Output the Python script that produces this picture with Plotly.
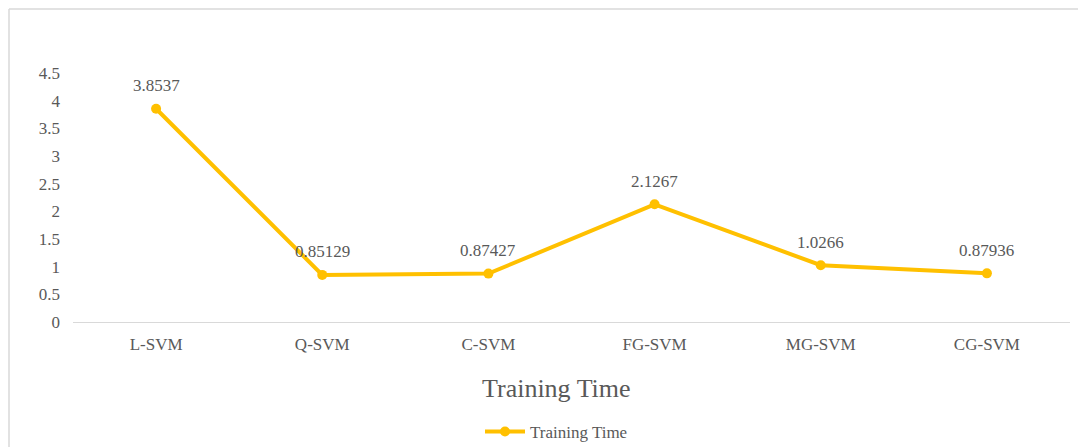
import plotly.graph_objects as go

categories = ["L-SVM", "Q-SVM", "C-SVM", "FG-SVM", "MG-SVM", "CG-SVM"]
training_time = [3.8537, 0.85129, 0.87427, 2.1267, 1.0266, 0.87936]
labels = ["3.8537", "0.85129", "0.87427", "2.1267", "1.0266", "0.87936"]
y_ticks = [0, 0.5, 1, 1.5, 2, 2.5, 3, 3.5, 4, 4.5]
y_tick_text = ["0", "0.5", "1", "1.5", "2", "2.5", "3", "3.5", "4", "4.5"]

OFF = 8  # page body margin offset
W, H = 1086 - OFF, 447 - OFF
L, R, T, B = 73 - OFF, 16, 73 - OFF, 125
pw = W - L - R
ph = H - T - B

font = '"Liberation Serif", "Times New Roman", "DejaVu Serif", serif'
grey = "#595959"
gold = "#FFC000"

def px_x(p):
    return (p - OFF - L) / pw

def px_y(p):
    return (H - B - (p - OFF)) / ph

fig = go.Figure()
fig.add_trace(go.Scatter(
    x=categories, y=training_time, mode="lines+markers",
    name="Training Time",
    line=dict(color=gold, width=4),
    marker=dict(color=gold, size=10),
    cliponaxis=False,
))

annotations = [
    dict(text=t, x=c, y=v, xref="x", yref="y", showarrow=False,
         xanchor="center", yanchor="middle", yshift=23,
         font=dict(family=font, size=17, color=grey))
    for c, v, t in zip(categories, training_time, labels)
]
annotations.append(
    dict(text="Training Time", xref="paper", yref="paper", x=px_x(556), y=px_y(388),
         xanchor="center", yanchor="middle", showarrow=False,
         font=dict(family=font, size=26, color=grey))
)

fig.update_layout(
    width=W, height=H,
    margin=dict(l=L, r=R, t=T, b=B, autoexpand=False),
    paper_bgcolor="white", plot_bgcolor="white",
    showlegend=True,
    legend=dict(orientation="h", x=px_x(480), xanchor="left", y=px_y(432), yanchor="middle",
                font=dict(family=font, size=17, color=grey), itemwidth=40),
    font=dict(family=font, color=grey),
    xaxis=dict(
        range=[-0.5, 5.5], automargin=False,
        showgrid=False, showline=True, linecolor="#D9D9D9", linewidth=1,
        ticks="", tickfont=dict(family=font, size=17, color=grey), ticklabelstandoff=7,
        fixedrange=True,
    ),
    yaxis=dict(
        range=[0, 4.5], tickvals=y_ticks, ticktext=y_tick_text, automargin=False,
        showgrid=False, zeroline=False, showline=False, ticks="",
        tickfont=dict(family=font, size=17, color=grey), ticklabelstandoff=12,
        fixedrange=True,
    ),
    annotations=annotations,
    shapes=[
        dict(type="line", xref="paper", yref="paper",
             x0=px_x(9), x1=px_x(1086), y0=px_y(9), y1=px_y(9),
             line=dict(color="#D9D9D9", width=1.5)),
        dict(type="line", xref="paper", yref="paper",
             x0=px_x(9), x1=px_x(9), y0=px_y(9), y1=px_y(447),
             line=dict(color="#D9D9D9", width=1.5)),
    ],
)

fig.write_html("out.html")
